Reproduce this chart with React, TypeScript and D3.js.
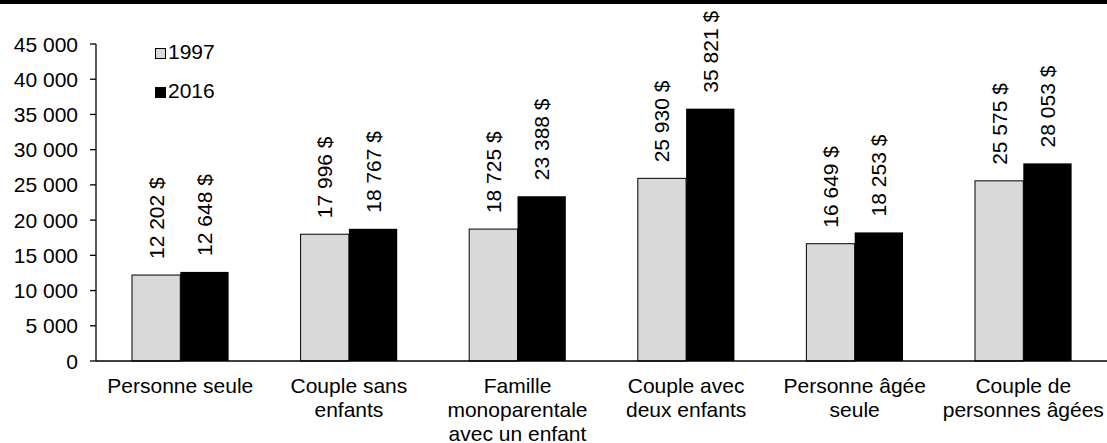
import React from "react";
import * as d3 from "d3";

// Household types (multi-line labels) and the two survey years
const categoryLines: string[][] = [
  ["Personne seule"],
  ["Couple sans", "enfants"],
  ["Famille", "monoparentale", "avec un enfant"],
  ["Couple avec", "deux enfants"],
  ["Personne âgée", "seule"],
  ["Couple de", "personnes âgées"],
];
const seriesNames = ["1997", "2016"];
const values1997 = [12202, 17996, 18725, 25930, 16649, 25575];
const values2016 = [12648, 18767, 23388, 35821, 18253, 28053];
const yTicks = [0, 5000, 10000, 15000, 20000, 25000, 30000, 35000, 40000, 45000];

const W = 1107;
const H = 443;
const FONT = "'Liberation Sans', Arial, Helvetica, sans-serif";
const FS = 21;
const FILLS = ["#d9d9d9", "#000000"];

const locale = d3.formatLocale({
  decimal: ",",
  thousands: " ",
  grouping: [3],
  currency: ["", " $"],
});
const fmt = locale.format(",d");

export default function App() {
  const left = 96;
  const right = 1107.6;
  const top = 44;
  const bottom = 361;

  const categories = categoryLines.map((l) => l.join(" "));
  const x = d3.scaleBand<string>().domain(categories).range([left, right]).padding(0);
  const xs = d3
    .scaleBand<string>()
    .domain(seriesNames)
    .range([0, x.bandwidth()])
    .paddingInner(0)
    .paddingOuter(0.745);
  const y = d3.scaleLinear().domain([0, 45000]).range([bottom, top]);

  const series = [values1997, values2016];

  return (
    <svg
      width={W}
      height={H}
      style={{ position: "absolute", left: 0, top: 0, background: "#fff" }}
      fontFamily={FONT}
    >
      <rect x={0} y={0} width={W} height={H} fill="#fff" />
      <rect x={0} y={0} width={W} height={4} fill="#000" />

      {/* y axis */}
      <line x1={left} x2={left} y1={y(45000)} y2={bottom} stroke="#000" strokeWidth={1.3} />
      {yTicks.map((t) => (
        <g key={t}>
          <line x1={left - 6} x2={left} y1={y(t)} y2={y(t)} stroke="#000" strokeWidth={1.3} />
          <text
            x={left - 18}
            y={y(t)}
            textAnchor="end"
            dominantBaseline="central"
            fontSize={FS}
            fill="#000"
          >
            {fmt(t)}
          </text>
        </g>
      ))}

      {/* bars */}
      {categories.map((c, i) => (
        <g key={c}>
          {seriesNames.map((s, j) => {
            const v = series[j][i];
            const bx = x(c)! + xs(s)!;
            const bw = xs.bandwidth();
            return (
              <g key={s}>
                <rect
                  x={bx}
                  y={y(v)}
                  width={bw}
                  height={bottom - y(v)}
                  fill={FILLS[j]}
                  stroke="#000"
                  strokeWidth={j === 0 ? 1 : 0}
                />
                <text
                  transform={`translate(${bx + bw / 2},${y(v) - 16}) rotate(-90)`}
                  textAnchor="start"
                  dominantBaseline="central"
                  fontSize={FS}
                  fill="#000"
                >
                  {fmt(v) + " $"}
                </text>
              </g>
            );
          })}
        </g>
      ))}

      {/* x axis */}
      <line x1={left} x2={right} y1={bottom} y2={bottom} stroke="#000" strokeWidth={1.3} />
      {categoryLines.map((lines, i) => (
        <text
          key={i}
          x={x(categories[i])! + x.bandwidth() / 2}
          y={393}
          textAnchor="middle"
          fontSize={FS}
          fill="#000"
        >
          {lines.map((ln, k) => (
            <tspan key={k} x={x(categories[i])! + x.bandwidth() / 2} dy={k === 0 ? 0 : 24}>
              {ln}
            </tspan>
          ))}
        </text>
      ))}

      {/* legend */}
      {seriesNames.map((s, j) => (
        <g key={s} transform={`translate(155,${48 + j * 39})`}>
          <rect x={0.5} y={0.5} width={10} height={10} fill={FILLS[j]} stroke="#000" strokeWidth={1} />
          <text x={13} y={11} fontSize={FS} fill="#000">
            {s}
          </text>
        </g>
      ))}
    </svg>
  );
}
